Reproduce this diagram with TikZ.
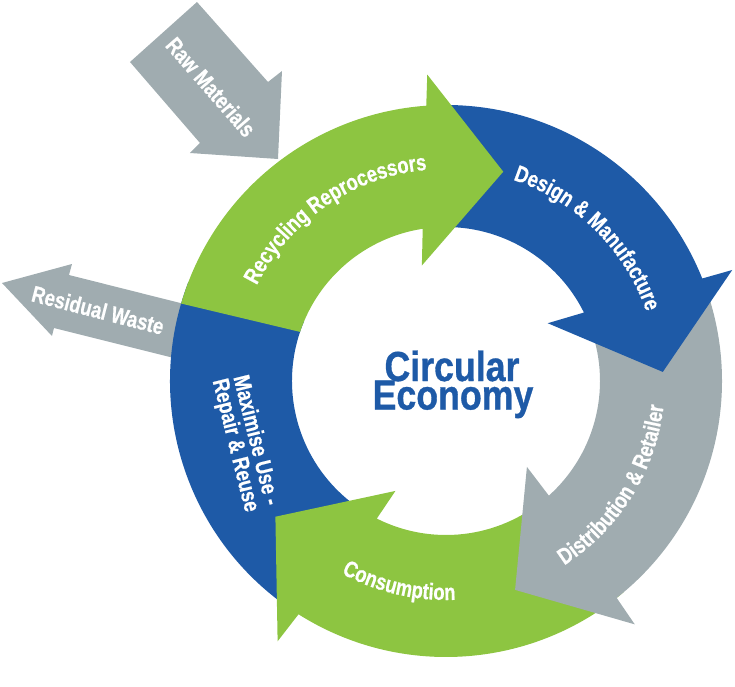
\documentclass[tikz,border=0pt]{standalone}
\usepackage{fontspec}
\newfontfamily\condfont[FakeStretch=0.8, FakeBold=0.6]{Liberation Sans}
\newfontfamily\titlefont[FakeStretch=0.85, FakeBold=0.8]{Liberation Sans}
\usetikzlibrary{decorations.text}
\definecolor{cegreen}{HTML}{8DC541}
\definecolor{ceblue}{HTML}{1E5AA7}
\definecolor{cegrey}{HTML}{A0ACB0}
\tikzset{ringtext/.style={decorate, decoration={text along path, text align=center, text color=white, text={|\condfont\bfseries\fontsize{23}{23}\selectfont|#1}}}}

\begin{document}
\begin{tikzpicture}[x=1pt,y=1pt]
\tikzstyle{every node}+=[inner sep=0pt]
\tikzstyle{sidetext}=[text=white, font=\condfont\bfseries\fontsize{23}{21}\selectfont]
\tikzstyle{titletext}=[anchor=base, text=ceblue, font=\titlefont\bfseries\fontsize{42}{29}\selectfont]
\useasboundingbox (-446,-305) rectangle (289,381);
\fill [cegrey] (-316,319) -- (-249,379) -- (-178,299) -- (-164,310) -- (-168,222) -- (-256,228) -- (-246,238) -- cycle;
\node (raw) at (-235,294) [sidetext, rotate=-49] {Raw Materials};
\fill [cegrey] (-444,98) -- (-374,117) -- (-377,106) -- (-226,68) -- (-236,14) -- (-392,53) -- (-394,45) -- cycle;
\node (waste) at (-348,71) [sidetext, rotate=-14.5] {Residual Waste};
\fill [ceblue] (234:276) arc[start angle=234, end angle=159, radius=276] -- (157:154) arc[start angle=157, end angle=234, radius=154] -- cycle;
\fill [cegreen] (-50:276) arc[start angle=-50, end angle=-122.3, radius=276] -- (-122.9:310) -- (-141.5:218) -- (-114.7:121) -- (-116.7:154) arc[start angle=-116.7, end angle=-50, radius=154] -- cycle;
\fill [cegrey] (22:276) arc[start angle=22, end angle=-51.8, radius=276] -- (-52.2:308) -- (-71.7:220) -- (-46.7:118) -- (-48.1:154) arc[start angle=-48.1, end angle=22, radius=154] -- cycle;
\fill [ceblue] (92:276) arc[start angle=92, end angle=21.8, radius=276] -- (21.2:307) -- (2.4:217) -- (29.6:117) -- (26.4:154) arc[start angle=26.4, end angle=92, radius=154] -- cycle;
\fill [cegreen] (163.7:276) arc[start angle=163.7, end angle=94.1, radius=276] -- (93.5:307) -- (74.7:217) -- (101.8:118) -- (98.7:154) arc[start angle=98.7, end angle=161.4, radius=154] -- cycle;
\path [ringtext={Recycling Reprocessors}] (164.2:212) arc[start angle=164.2, end angle=84.2, radius=212];
\path [ringtext={Design {\&} Manufacture}] (85.3:212) arc[start angle=85.3, end angle=5.3, radius=212];
\path [ringtext={Distribution {\&} Retailer}] (-71.9:219) arc[start angle=-71.9, end angle=8.1, radius=219];
\path [ringtext={Consumption}] (-143:219) arc[start angle=-143, end angle=-63, radius=219];
\node (reuse) at (-201,-62) [sidetext, rotate=-76, align=center] {Maximise Use -\\Repair \& Reuse};
\node (circ) at (6,0) [titletext] {Circular};
\node (econ) at (7,-28.5) [titletext] {Economy};
\end{tikzpicture}
\end{document}
